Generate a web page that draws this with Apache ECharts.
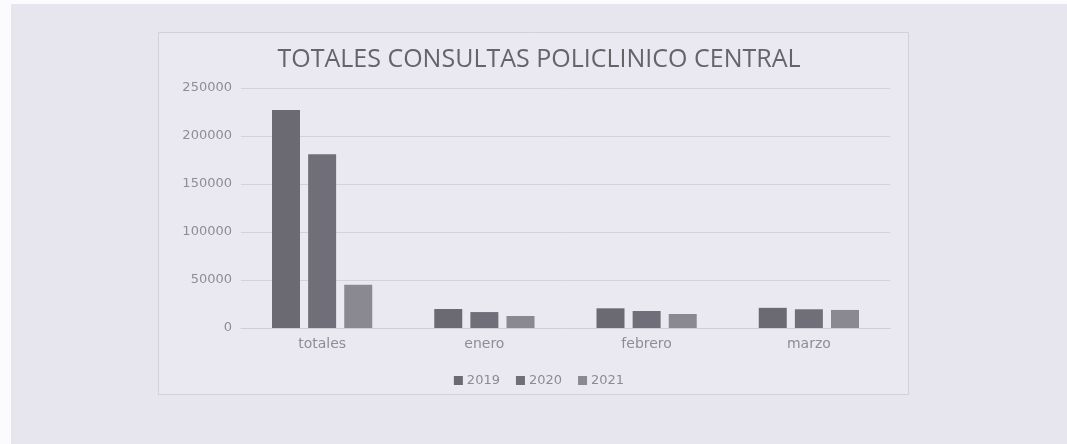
<!DOCTYPE html>
<html>
<head>
<meta charset="utf-8">
<script src="https://cdn.jsdelivr.net/npm/echarts@6/dist/echarts.min.js"></script>
<style>
  html, body { margin: 0; padding: 0; background: #fbfbfd; }
  #chart { position: absolute; left: 11px; top: 4px; width: 1056px; height: 440px; }
</style>
</head>
<body>
<div id="chart"></div>
<script>
// Consultas por periodo y año
const categories = ['totales', 'enero', 'febrero', 'marzo'];
const years = ['2019', '2020', '2021'];
const values2019 = [227000, 19800, 20500, 21000];
const values2020 = [181000, 16600, 17700, 19500];
const values2021 = [45000, 12500, 14600, 18800];
const yTicks = [0, 50000, 100000, 150000, 200000, 250000];

const barColors = ['#6b6a72', '#706f79', '#8a8991'];
const seriesValues = [values2019, values2020, values2021];

const chart = echarts.init(document.getElementById('chart'));
chart.setOption({
  backgroundColor: '#e7e6ee',
  animation: false,
  textStyle: { fontFamily: 'DejaVu Sans, sans-serif' },
  title: {
    text: 'TOTALES CONSULTAS POLICLINICO CENTRAL',
    left: 'center',
    top: 38,
    textStyle: { fontSize: 25, fontWeight: 'normal', color: '#656469', fontFamily: 'Open Sans' }
  },
  graphic: [{
    type: 'rect',
    left: 147, top: 28,
    shape: { width: 750, height: 362 },
    style: { fill: '#eae9f1', stroke: '#d2d1d9', lineWidth: 1 },
    z: -10
  }],
  legend: {
    data: years,
    left: 'center',
    top: 365,
    itemWidth: 9,
    itemHeight: 9,
    itemGap: 16,
    icon: 'rect',
    textStyle: { fontSize: 13, color: '#8c8b92', fontFamily: 'DejaVu Sans', padding: [0, 0, 0, -1] }
  },
  grid: { left: 230, right: 177, top: 84, bottom: 116 },
  xAxis: {
    type: 'category',
    data: categories,
    axisTick: { show: false },
    axisLine: { lineStyle: { color: '#cfced6' } },
    axisLabel: { fontSize: 14, color: '#8e8d94', margin: 9 }
  },
  yAxis: {
    type: 'value',
    min: yTicks[0],
    max: yTicks[yTicks.length - 1],
    interval: yTicks[1] - yTicks[0],
    axisLine: { show: false },
    axisTick: { show: false },
    axisLabel: { fontSize: 13, color: '#8e8d94', margin: 9, formatter: v => String(v) },
    splitLine: { lineStyle: { color: '#d3d2da' } }
  },
  series: years.map((y, i) => ({
    name: y,
    type: 'bar',
    data: seriesValues[i],
    barWidth: 28,
    barGap: '29%',
    itemStyle: { color: barColors[i] }
  }))
});
</script>
</body>
</html>
